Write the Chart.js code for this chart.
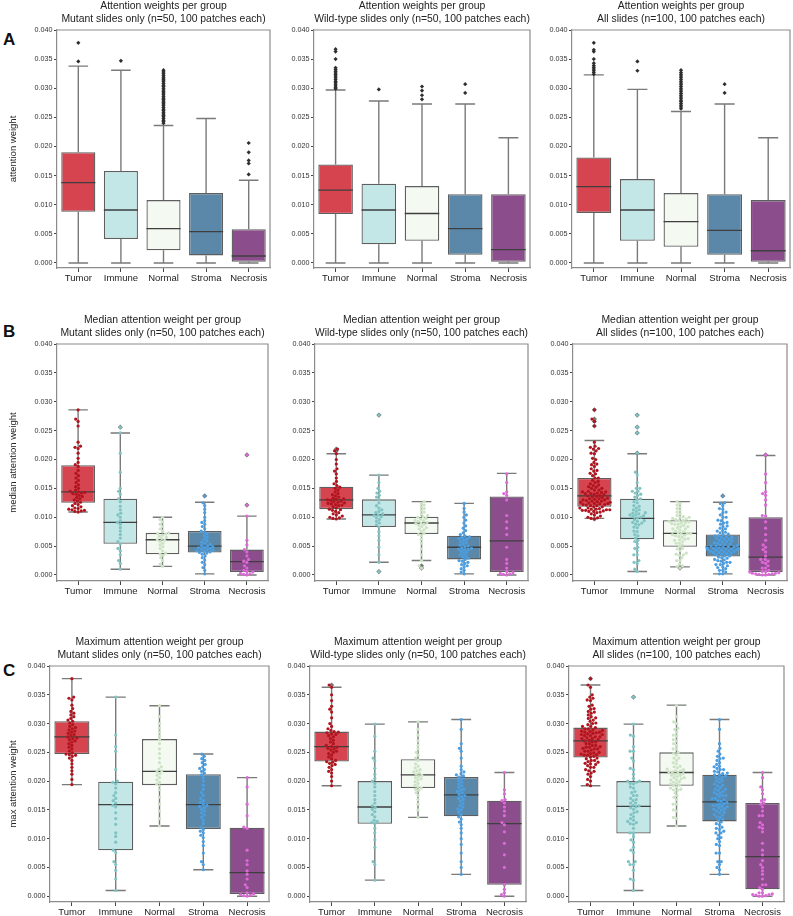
<!DOCTYPE html>
<html>
<head>
<meta charset="utf-8">
<script src="https://cdn.jsdelivr.net/npm/chart.js@4.4.1/dist/chart.umd.min.js"></script>
<style>
  body { margin: 0; background: #fff; width: 793px; height: 916px; position: relative; overflow: hidden; font-family: 'Liberation Sans', Arial, sans-serif; }
  canvas { position: absolute; }
  .tag { position: absolute; font-weight: bold; font-size: 17px; line-height: 17px; color: #111; }
</style>
</head>
<body>
<div class="tag" style="left:3px;top:31px">A</div>
<div class="tag" style="left:3px;top:323px">B</div>
<div class="tag" style="left:3px;top:662px">C</div>
<script>
// categories and axis ticks
const categories = ['Tumor', 'Immune', 'Normal', 'Stroma', 'Necrosis'];
const yTicks = [0, 0.005, 0.010, 0.015, 0.020, 0.025, 0.030, 0.035, 0.040];

const rowTitles = ['Attention weights per group', 'Median attention weight per group', 'Maximum attention weight per group'];
const colTitles = ['Mutant slides only (n=50, 100 patches each)', 'Wild-type slides only (n=50, 100 patches each)', 'All slides (n=100, 100 patches each)'];
const yTitles = ['attention weight', 'median attention weight', 'max attention weight'];

// box stats per group: [whisker low, q1, median, q3, whisker high]
const boxA1 = [[0, .0088, .0138, .0190, .0338], [0, .0041, .0091, .0158, .0331], [0, .0022, .0059, .0108, .0236], [0, .0013, .0054, .0120, .0248], [0, .0002, .0012, .0058, .0142]];
const boxA2 = [[0, .0084, .0125, .0169, .0297], [0, .0032, .0091, .0136, .0278], [0, .0038, .0085, .0132, .0273], [0, .0014, .0059, .0118, .0273], [0, .0002, .0023, .0118, .0215]];
const boxA3 = [[0, .0086, .0131, .0181, .0323], [0, .0038, .0091, .0144, .0298], [0, .0028, .0071, .0120, .0260], [0, .0014, .0056, .0118, .0273], [0, .0002, .0021, .0108, .0215]];
const boxB1 = [[.0109, .0125, .0144, .0190, .0286], [.0010, .0054, .0091, .0132, .0246], [.0015, .0036, .0061, .0073, .0100], [.0002, .0039, .0050, .0076, .0126], [0, .0005, .0023, .0044, .0102]];
const boxB2 = [[.0097, .0114, .0130, .0153, .0210], [.0022, .0083, .0104, .0131, .0173], [.0025, .0071, .0090, .0101, .0127], [.0002, .0027, .0048, .0068, .0124], [0, .0005, .0059, .0136, .0176]];
const boxB3 = [[.0098, .0118, .0137, .0168, .0233], [.0006, .0062, .0098, .0132, .0210], [.0014, .0049, .0072, .0095, .0127], [.0002, .0032, .0049, .0070, .0126], [0, .0005, .0031, .0100, .0207]];
const boxC1 = [[.0194, .0247, .0277, .0304, .0378], [.0010, .0080, .0159, .0199, .0346], [.0122, .0193, .0217, .0273, .0331], [.0046, .0117, .0159, .0212, .0247], [0, .0004, .0041, .0119, .0206]];
const boxC2 = [[.0192, .0234, .0260, .0286, .0363], [.0028, .0126, .0155, .0200, .0299], [.0137, .0188, .0211, .0238, .0303], [.0038, .0139, .0176, .0207, .0307], [0, .0020, .0126, .0166, .0215]];
const boxC3 = [[.0192, .0241, .0270, .0293, .0367], [.0010, .0109, .0156, .0200, .0299], [.0122, .0192, .0215, .0250, .0332], [.0038, .0130, .0164, .0211, .0307], [0, .0012, .0069, .0162, .0215]];

// outliers of the patch-level plots (row A)
const fliersA1 = [
  [.0346, .0378],
  [.0347],
  [.0240, .0243, .0245, .0248, .0251, .0253, .0256, .0259, .0262, .0264, .0267, .0270, .0273, .0275, .0278, .0281, .0283, .0286, .0289, .0292, .0294, .0297, .0300, .0303, .0305, .0308, .0311, .0314, .0316, .0319, .0322, .0325, .0328, .0331],
  [],
  [.0152, .0171, .0176, .0190, .0206]
];
const fliersA2 = [
  [.0299, .0301, .0304, .0307, .0310, .0312, .0315, .0318, .0321, .0323, .0326, .0329, .0332, .0335, .0350, .0363, .0367],
  [.0298],
  [.0281, .0288, .0296, .0303],
  [.0292, .0307],
  []
];
const fliersA3 = [
  [.0324, .0327, .0330, .0333, .0336, .0339, .0343, .0350, .0363, .0366, .0378],
  [.0330, .0346],
  [.0265, .0268, .0271, .0274, .0277, .0279, .0282, .0285, .0288, .0291, .0294, .0297, .0300, .0303, .0306, .0309, .0312, .0315, .0318, .0321, .0324, .0327, .0331],
  [.0292, .0307],
  []
];

// per-slide median attention (row B)
const medMutant = [
  [.0109, .0110, .0111, .0112, .0113, .0114, .0115, .0116, .0118, .0120, .0122, .0124, .0126, .0128, .0130, .0132, .0134, .0136, .0138, .0140, .0141, .0142, .0143, .0144,
   .0145, .0147, .0150, .0153, .0156, .0160, .0164, .0168, .0172, .0176, .0181, .0188, .0191, .0195, .0202, .0211, .0219, .0221, .0223, .0230, .0258, .0266, .0270, .0286],
  [.0010, .0020, .0025, .0035, .0042, .0046, .0054, .0058, .0064, .0070, .0076, .0082, .0088, .0091, .0094, .0100, .0104, .0107, .0113, .0119, .0127, .0132, .0140, .0145, .0150, .0178, .0211, .0246, .0256],
  [.0015, .0019, .0025, .0030, .0034, .0036, .0038, .0042, .0046, .0049, .0052, .0055, .0058, .0060, .0061, .0063, .0065, .0067, .0069, .0071, .0072, .0073, .0076, .0080, .0084, .0088, .0092, .0096, .0100],
  [.0002, .0008, .0013, .0018, .0022, .0026, .0030, .0033, .0036, .0038, .0039, .0040, .0041, .0042, .0043, .0044, .0045, .0046, .0047, .0048, .0049, .0050,
   .0051, .0053, .0055, .0057, .0059, .0062, .0065, .0068, .0071, .0074, .0076, .0080, .0084, .0088, .0091, .0094, .0100, .0108, .0114, .0120, .0125, .0137],
  [0, .0001, .0002, .0003, .0005, .0006, .0008, .0012, .0016, .0022, .0024, .0027, .0033, .0040, .0044, .0052, .0060, .0102, .0121, .0208]
];
const medWild = [
  [.0097, .0098, .0099, .0100, .0102, .0104, .0106, .0108, .0110, .0112, .0113, .0114, .0116, .0118, .0120, .0121, .0122, .0123, .0124, .0125, .0126, .0127, .0128, .0129,
   .0130, .0131, .0132, .0133, .0135, .0137, .0139, .0141, .0144, .0147, .0150, .0152, .0155, .0158, .0162, .0168, .0175, .0180, .0184, .0192, .0200, .0210, .0215, .0218],
  [.0006, .0022, .0035, .0048, .0060, .0068, .0075, .0083, .0087, .0090, .0093, .0096, .0099, .0101, .0103, .0104, .0106, .0108, .0110, .0113, .0116, .0120, .0125, .0131, .0135, .0138, .0142, .0145, .0150, .0160, .0173, .0277],
  [.0012, .0016, .0025, .0035, .0045, .0055, .0062, .0068, .0070, .0072, .0075, .0078, .0080, .0082, .0084, .0086, .0088, .0089,
   .0090, .0091, .0093, .0094, .0095, .0097, .0098, .0100, .0101, .0103, .0106, .0109, .0112, .0115, .0118, .0121, .0124, .0127],
  [.0002, .0005, .0008, .0011, .0014, .0016, .0018, .0020, .0022, .0024, .0025, .0027, .0029, .0031, .0033, .0035, .0037, .0039, .0041, .0043, .0044, .0045, .0046, .0047,
   .0049, .0050, .0052, .0054, .0056, .0058, .0060, .0062, .0063, .0065, .0066, .0068, .0070, .0073, .0077, .0081, .0085, .0090, .0095, .0100, .0104, .0109, .0115, .0124],
  [0, .0001, .0002, .0003, .0004, .0006, .0012, .0020, .0027, .0048, .0070, .0081, .0092, .0103, .0130, .0138, .0141, .0144, .0160, .0175]
];

// per-slide maximum attention (row C)
const maxMutant = [
  [.0194, .0203, .0212, .0218, .0224, .0230, .0236, .0240, .0243, .0245, .0246, .0247, .0249, .0252, .0256, .0259, .0262, .0265, .0268, .0270, .0272, .0274, .0275, .0277,
   .0279, .0281, .0283, .0285, .0287, .0289, .0291, .0293, .0295, .0298, .0301, .0304, .0306, .0309, .0312, .0315, .0318, .0321, .0326, .0332, .0341, .0344, .0346, .0378],
  [.0010, .0030, .0045, .0055, .0060, .0076, .0080, .0094, .0104, .0110, .0125, .0135, .0145, .0155, .0158, .0162, .0166, .0170, .0175, .0180, .0188, .0195, .0198, .0200, .0220, .0252, .0260, .0280, .0346],
  [.0122, .0135, .0148, .0160, .0172, .0185, .0192, .0195, .0198, .0202, .0206, .0210, .0213, .0216, .0218, .0221, .0225, .0232, .0240, .0248, .0256, .0265, .0272, .0278, .0285, .0292, .0300, .0312, .0331],
  [.0046, .0055, .0060, .0075, .0088, .0095, .0102, .0106, .0110, .0113, .0116, .0120, .0126, .0132, .0137, .0141, .0145, .0148, .0151, .0154, .0156, .0158,
   .0160, .0163, .0166, .0170, .0175, .0180, .0186, .0193, .0200, .0206, .0211, .0214, .0217, .0220, .0222, .0225, .0229, .0232, .0236, .0239, .0243, .0247],
  [0, .0001, .0002, .0003, .0004, .0006, .0015, .0020, .0030, .0038, .0044, .0055, .0062, .0080, .0118, .0120, .0140, .0160, .0190, .0206]
];
const maxWild = [
  [.0192, .0200, .0208, .0214, .0217, .0220, .0224, .0227, .0229, .0231, .0233, .0234, .0236, .0239, .0242, .0245, .0248, .0250, .0252, .0254, .0256, .0257, .0259, .0260,
   .0262, .0265, .0268, .0271, .0274, .0277, .0279, .0281, .0282, .0284, .0285, .0286, .0288, .0291, .0295, .0300, .0310, .0320, .0325, .0330, .0340, .0350, .0363, .0367],
  [.0028, .0055, .0060, .0085, .0098, .0110, .0118, .0126, .0128, .0130, .0132, .0138, .0142, .0147, .0151, .0154, .0157, .0162, .0168, .0175, .0182, .0190, .0196, .0200, .0205, .0212, .0222, .0235, .0240, .0252, .0278, .0299],
  [.0137, .0150, .0160, .0168, .0175, .0180, .0184, .0186, .0188, .0190, .0193, .0196, .0199, .0202, .0204, .0206, .0208, .0210,
   .0212, .0214, .0216, .0218, .0220, .0223, .0226, .0230, .0236, .0240, .0245, .0250, .0256, .0262, .0270, .0280, .0290, .0303],
  [.0038, .0050, .0060, .0075, .0090, .0100, .0110, .0118, .0124, .0129, .0134, .0138, .0142, .0146, .0150, .0152, .0155, .0158, .0161, .0165, .0168, .0170, .0173, .0175,
   .0177, .0179, .0182, .0184, .0186, .0189, .0192, .0195, .0198, .0201, .0204, .0207, .0209, .0211, .0213, .0216, .0220, .0226, .0240, .0252, .0257, .0265, .0290, .0307],
  [0, .0003, .0006, .0012, .0020, .0050, .0072, .0092, .0112, .0124, .0128, .0140, .0148, .0155, .0162, .0166, .0168, .0178, .0185, .0215]
];

// colours
const boxColors = ['#d6444f', '#c3e6e6', '#f4faf2', '#5b88a8', '#8c4d8c'];
const dotColors = ['#b0141e', '#7fc3c3', '#cde3c5', '#4b9ee2', '#dd69d8'];
const LINE = '#5e5e5e';
const WHISKER = '#7a7a7a';
const FRAME = '#8c8c8c';

Chart.defaults.font.family = "'Liberation Sans', Arial, sans-serif";
Chart.defaults.color = '#222';

// panel geometry: plot frame in page pixels
const rows = [
  { top: 30, bottom: 268, yMin: -0.00086, cols: [[57, 271], [314, 531], [572, 791]] },
  { top: 344, bottom: 581, yMin: -0.00104, cols: [[57, 269], [315, 529], [573, 788]] },
  { top: 666, bottom: 902, yMin: -0.00100, cols: [[50, 270], [310, 527], [569, 785]] }
];

const PX_PER_Y = 5800, PX_PER_X = 43.5, DOT_D = 3.4, SWARM_HALF = 16;

// beeswarm: sideways offset so dots don't overlap
function swarm(values, center) {
  const order = values.map((v, i) => i).sort((a, b) => values[a] - values[b]);
  const placed = [];
  const out = new Array(values.length);
  for (const i of order) {
    const py = values[i] * PX_PER_Y;
    const blocks = [];
    for (const p of placed) {
      const dy = Math.abs(p.y - py);
      if (dy < DOT_D) {
        const w = Math.sqrt(DOT_D * DOT_D - dy * dy);
        blocks.push([p.x - w, p.x + w]);
      }
    }
    const cands = [0];
    blocks.forEach(b => cands.push(b[0], b[1]));
    cands.sort((a, b) => Math.abs(a) - Math.abs(b));
    const x = cands.find(c => blocks.every(b => c <= b[0] + 1e-6 || c >= b[1] - 1e-6));
    placed.push({ x: x, y: py });
    const cx = Math.max(-SWARM_HALF, Math.min(SWARM_HALF, x));
    out[i] = { x: center + cx / PX_PER_X, y: values[i] };
  }
  return out;
}

function whiskerData(boxes) {
  const d = [];
  boxes.forEach((b, i) => {
    d.push({ x: i, y: b[0] }, { x: i, y: b[1] }, { x: i, y: null });
    d.push({ x: i, y: b[3] }, { x: i, y: b[4] }, { x: i, y: null });
    d.push({ x: i - 0.23, y: b[4] }, { x: i + 0.23, y: b[4] }, { x: i, y: null });
    d.push({ x: i - 0.23, y: b[0] }, { x: i + 0.23, y: b[0] }, { x: i, y: null });
  });
  return d;
}

function medianData(boxes) {
  const d = [];
  boxes.forEach((b, i) => d.push({ x: i - 0.4, y: b[2] }, { x: i + 0.4, y: b[2] }, { x: i, y: null }));
  return d;
}

const framePlugin = {
  id: 'frame',
  beforeDatasetsDraw(chart) {
    const { ctx, chartArea: a } = chart;
    ctx.save();
    ctx.strokeStyle = FRAME;
    ctx.lineWidth = 1.2;
    ctx.beginPath();
    ctx.moveTo(a.left, a.top);
    ctx.lineTo(a.right, a.top);
    ctx.lineTo(a.right, a.bottom);
    ctx.stroke();
    ctx.restore();
  }
};

function makePanel(r, c, boxes, fliers, points) {
  const row = rows[r];
  const [pl, pr] = row.cols[c];
  const yw = c === 0 ? pl : 30;
  const left = pl - yw;
  const top = row.top - 32;
  const cv = document.createElement('canvas');
  cv.width = pr - left + 3;
  cv.height = row.bottom - top + 16;
  cv.style.left = left + 'px';
  cv.style.top = top + 'px';
  document.body.appendChild(cv);

  const datasets = [
    { type: 'scatter', data: whiskerData(boxes), showLine: true, borderColor: WHISKER, borderWidth: 1.4, pointRadius: 0, spanGaps: false, order: 6 },
    { type: 'bar', data: boxes.map((b, i) => ({ x: i, y: [b[1], b[3]] })), backgroundColor: boxColors, borderColor: LINE, borderWidth: 1.3, borderSkipped: false, barPercentage: 0.8, categoryPercentage: 1, grouped: false, order: 5 },
    { type: 'scatter', data: medianData(boxes), showLine: true, borderColor: '#3f3f3f', borderWidth: 1.3, pointRadius: 0, spanGaps: false, order: 4 }
  ];

  let flierPts = [];
  if (fliers) {
    fliers.forEach((f, i) => f.forEach(v => flierPts.push({ x: i, y: v })));
    datasets.push({ type: 'scatter', data: flierPts, pointStyle: 'rectRot', pointRadius: 2.1, pointBackgroundColor: '#2e2e2e', pointBorderWidth: 0, order: 3 });
  }
  if (points) {
    points.forEach((vals, i) => {
      vals.filter(v => v < boxes[i][0] || v > boxes[i][4]).forEach(v => flierPts.push({ x: i, y: v }));
    });
    datasets.push({ type: 'scatter', data: flierPts, pointStyle: 'rectRot', pointRadius: 2.6, pointBackgroundColor: '#777', pointBorderWidth: 0, order: 3 });
    points.forEach((vals, i) => {
      datasets.push({ type: 'scatter', data: swarm(vals, i), pointRadius: 1.6, pointBackgroundColor: dotColors[i], pointBorderWidth: 0, order: 2 });
    });
  }

  new Chart(cv, {
    type: 'bar',
    data: { datasets },
    options: {
      responsive: false,
      animation: false,
      devicePixelRatio: 1,
      layout: { padding: { top: 0, right: 3, left: 0, bottom: 0 } },
      plugins: {
        legend: { display: false },
        tooltip: { enabled: false },
        title: {
          display: true,
          text: [rowTitles[r], colTitles[c]],
          fullSize: false,
          font: { size: 10.4, weight: 'normal', lineHeight: 1.25 },
          color: '#222',
          padding: { top: 2, bottom: 4 }
        }
      },
      scales: {
        x: {
          type: 'linear',
          min: -0.5,
          max: 4.5,
          offset: false,
          afterBuildTicks: s => { s.ticks = categories.map((n, i) => ({ value: i })); },
          afterFit: s => { s.height = 16; },
          ticks: { callback: v => categories[v], autoSkip: false, maxRotation: 0, padding: 1, font: { size: 9.5 }, color: '#222' },
          grid: { display: true, drawOnChartArea: false, drawTicks: true, tickLength: 4, color: '#444', offset: false },
          border: { display: true, color: FRAME, width: 1.2 }
        },
        y: {
          min: row.yMin,
          max: 0.04,
          afterBuildTicks: s => { s.ticks = yTicks.map(v => ({ value: v })); },
          afterFit: s => { s.width = yw; },
          ticks: { callback: v => v.toFixed(3), padding: 1.5, font: { size: 7.2 }, color: '#333' },
          grid: { display: true, drawOnChartArea: false, drawTicks: true, tickLength: 3, color: '#444' },
          border: { display: true, color: FRAME, width: 1.2 },
          title: { display: c === 0, text: yTitles[r], font: { size: 9.5 }, color: '#222', padding: { top: 8, bottom: 0 } }
        }
      }
    },
    plugins: [framePlugin]
  });
}

const allOf = (a, b) => a.map((g, i) => g.concat(b[i]));

makePanel(0, 0, boxA1, fliersA1, null);
makePanel(0, 1, boxA2, fliersA2, null);
makePanel(0, 2, boxA3, fliersA3, null);
makePanel(1, 0, boxB1, null, medMutant);
makePanel(1, 1, boxB2, null, medWild);
makePanel(1, 2, boxB3, null, allOf(medMutant, medWild));
makePanel(2, 0, boxC1, null, maxMutant);
makePanel(2, 1, boxC2, null, maxWild);
makePanel(2, 2, boxC3, null, allOf(maxMutant, maxWild));
</script>
</body>
</html>
